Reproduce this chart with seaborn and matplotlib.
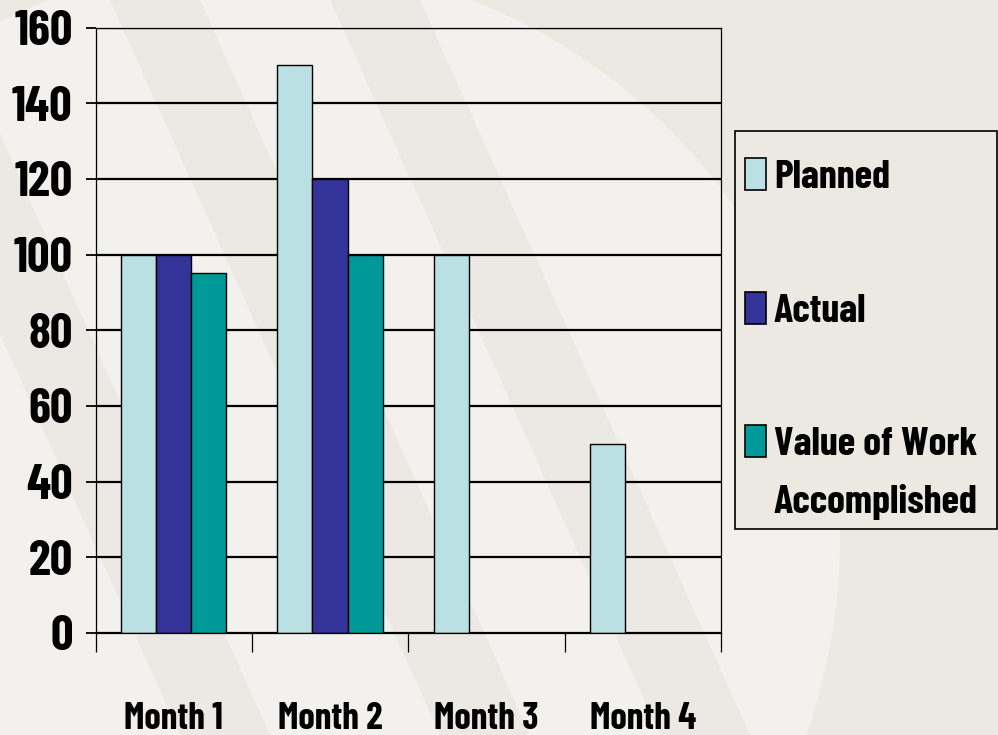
import numpy as np
import pandas as pd
import matplotlib
matplotlib.use("Agg")
import matplotlib.pyplot as plt
from matplotlib.patches import Rectangle, Polygon, Circle
from matplotlib.textpath import TextPath
from matplotlib.font_manager import FontProperties, fontManager
import seaborn as sns

# ---- data ----
months = ["Month 1", "Month 2", "Month 3", "Month 4"]
series = ["Planned", "Actual", "Value of Work Accomplished"]
planned = [100, 150, 100, 50]
actual = [100, 120, np.nan, np.nan]
value_of_work = [95, 100, np.nan, np.nan]
colors = ["#BBE0E3", "#333399", "#009999"]
yticks = [0, 20, 40, 60, 80, 100, 120, 140, 160]
legend_lines = ["Planned", "Actual", "Value of Work"]
legend_extra = "Accomplished"

rows = []
for name, vals in zip(series, [planned, actual, value_of_work]):
    for m, v in zip(months, vals):
        rows.append({"Month": m, "Series": name, "Value": v})
df = pd.DataFrame(rows).dropna()

# ---- pick a heavy condensed font (reference uses a squeezed bold sans) ----
installed = {}
for f in fontManager.ttflist:
    installed.setdefault(f.name, set()).add(f.weight if isinstance(f.weight, int) else 400)
cands = ["Fjalla One", "Barlow Condensed", "Archivo Narrow", "Asap Condensed",
         "Saira Condensed", "Encode Sans Condensed", "Roboto Condensed",
         "PT Sans Narrow", "Liberation Sans Narrow"]
heavy_regular = {"Fjalla One"}


def ink(text, fam, weight):
    tp = TextPath((0, 0), text, size=100, prop=FontProperties(family=fam, weight=weight))
    e = tp.get_extents()
    return e.width, e.height


best, best_score = None, 1e9
for fam in cands:
    if fam not in installed:
        continue
    if fam not in heavy_regular and max(installed[fam]) < 700:
        continue
    w, h = ink("160", fam, "bold")
    score = abs(w / h - 57 / 38)
    if score < best_score:
        best, best_score = fam, score
FAM = best or "DejaVu Sans"
FONT = [FAM, "DejaVu Sans"]
WEIGHT = "bold"


def fit_size(text, tw, factor):
    w, h = ink(text, FAM, WEIGHT)
    return tw * 72 / w * factor


ytick_size = fit_size("160", 57, 0.99)
month_size = fit_size("Month 1", 99, 0.97)
leg_size = fit_size("Value of Work", 217, 0.93)

sns.set_theme(style="white")
plt.rcParams["font.family"] = FONT
plt.rcParams["font.weight"] = WEIGHT
plt.rcParams["text.color"] = "black"

W, H = 998, 735
fig = plt.figure(figsize=(W / 100, H / 100), dpi=100)
fig.patch.set_facecolor("#ECE8E2")

# subtle background pattern
light = "#F3F1ED"
bg = fig.add_axes([0, 0, 1, 1], zorder=-10)
bg.set_xlim(0, W)
bg.set_ylim(H, 0)
bg.axis("off")
bg.add_patch(Circle((260, 540), 580, color=light, lw=0))
for x0 in [-150, 110, 330]:
    bg.add_patch(Polygon([(x0, 0), (x0 + 90, 0), (x0 + 420, H), (x0 + 330, H)],
                         closed=True, color="#ECE9E4", lw=0, alpha=0.9))

L, R, T, B = 95.5, 721, 27.5, 633
ax = fig.add_axes([L / W, 1 - B / H, (R - L) / W, (B - T) / H])
ax.set_facecolor("none")

sns.barplot(data=df, x="Month", y="Value", hue="Series", order=months,
            hue_order=series, palette=colors, width=0.675,
            edgecolor="black", linewidth=1.0, saturation=1, ax=ax, legend=False)

ax.set_xlim(-0.5, 3.5)
ax.set_ylim(0, 160)
ax.set_yticks(yticks)
ax.set_yticklabels([str(t) for t in yticks])
ax.yaxis.grid(True, color="black", linewidth=1.6)
ax.set_axisbelow(True)
for s in ax.spines.values():
    s.set_visible(True)
    s.set_color("black")
    s.set_linewidth(0.9)
ax.set_xlabel("")
ax.set_ylabel("")

ax.set_xticks(range(4))
ax.set_xticklabels(months)
ax.set_xticks(np.arange(-0.5, 4.0, 1.0), minor=True)
month_pad = 44
ax.tick_params(axis="x", which="major", length=0, pad=month_pad, labelsize=month_size)
ax.tick_params(axis="x", which="minor", length=14, width=0.9, color="black",
               direction="out")
ax.tick_params(axis="y", which="major", length=7.5, width=1.3, color="black",
               direction="out", pad=9, labelsize=ytick_size)
ax.tick_params(axis="both", which="both", bottom=True, left=True, labelcolor="black")
for lab in ax.get_xticklabels() + ax.get_yticklabels():
    lab.set_fontweight(WEIGHT)

# legend frame
fig.add_artist(Rectangle((735 / W, 1 - 529 / H), (997 - 735) / W, (529 - 131) / H,
                         transform=fig.transFigure, facecolor="#ECE8E2",
                         edgecolor="black", linewidth=1.2, zorder=1))
handles = [Rectangle((0, 0), 1, 1, facecolor=c, edgecolor="black", linewidth=1.2)
           for c in colors]
lprop = FontProperties(family=FONT, weight=WEIGHT, size=leg_size)
spx = leg_size * 100 / 72


def make_legend(ls, top):
    lg = fig.legend(handles, legend_lines, loc="upper left",
                    bbox_to_anchor=(745 / W, 1 - top / H), frameon=False,
                    borderpad=0, borderaxespad=0, handlelength=21 / spx,
                    handleheight=34 / spx, handletextpad=8 / spx,
                    labelspacing=ls, prop=lprop)
    lg.set_zorder(2)
    return lg


renderer = fig.canvas.get_renderer()


def baseline_px(t):
    bb = t.get_window_extent(renderer)
    prop = t.get_fontproperties()
    d1 = renderer.get_text_width_height_descent(t.get_text(), prop, ismath=False)[2]
    d2 = renderer.get_text_width_height_descent("lp", prop, ismath=False)[2]
    return H - (bb.y0 + max(d1, d2))


ls, top = 2.2, 150.0
leg = make_legend(ls, top)
for _ in range(3):
    fig.canvas.draw()
    bl = [baseline_px(t) for t in leg.get_texts()]
    pitch = (bl[2] - bl[0]) / 2
    ls = ls + (133.5 - pitch) / spx
    top = top + (188 - bl[0])
    leg.remove()
    leg = make_legend(ls, top)

# month labels: baseline near y=730
for _ in range(2):
    fig.canvas.draw()
    mb = baseline_px(ax.get_xticklabels()[0])
    month_pad = month_pad + (729 - mb) * 72 / 100
    ax.tick_params(axis="x", which="major", pad=month_pad)

fig.canvas.draw()
tx0 = leg.get_texts()[2].get_window_extent(renderer).x0
fig.text(tx0 / W, 1 - 513 / H, legend_extra, ha="left", va="baseline",
         fontproperties=lprop, zorder=3)

fig.savefig("out.png", dpi=100, facecolor=fig.get_facecolor())
